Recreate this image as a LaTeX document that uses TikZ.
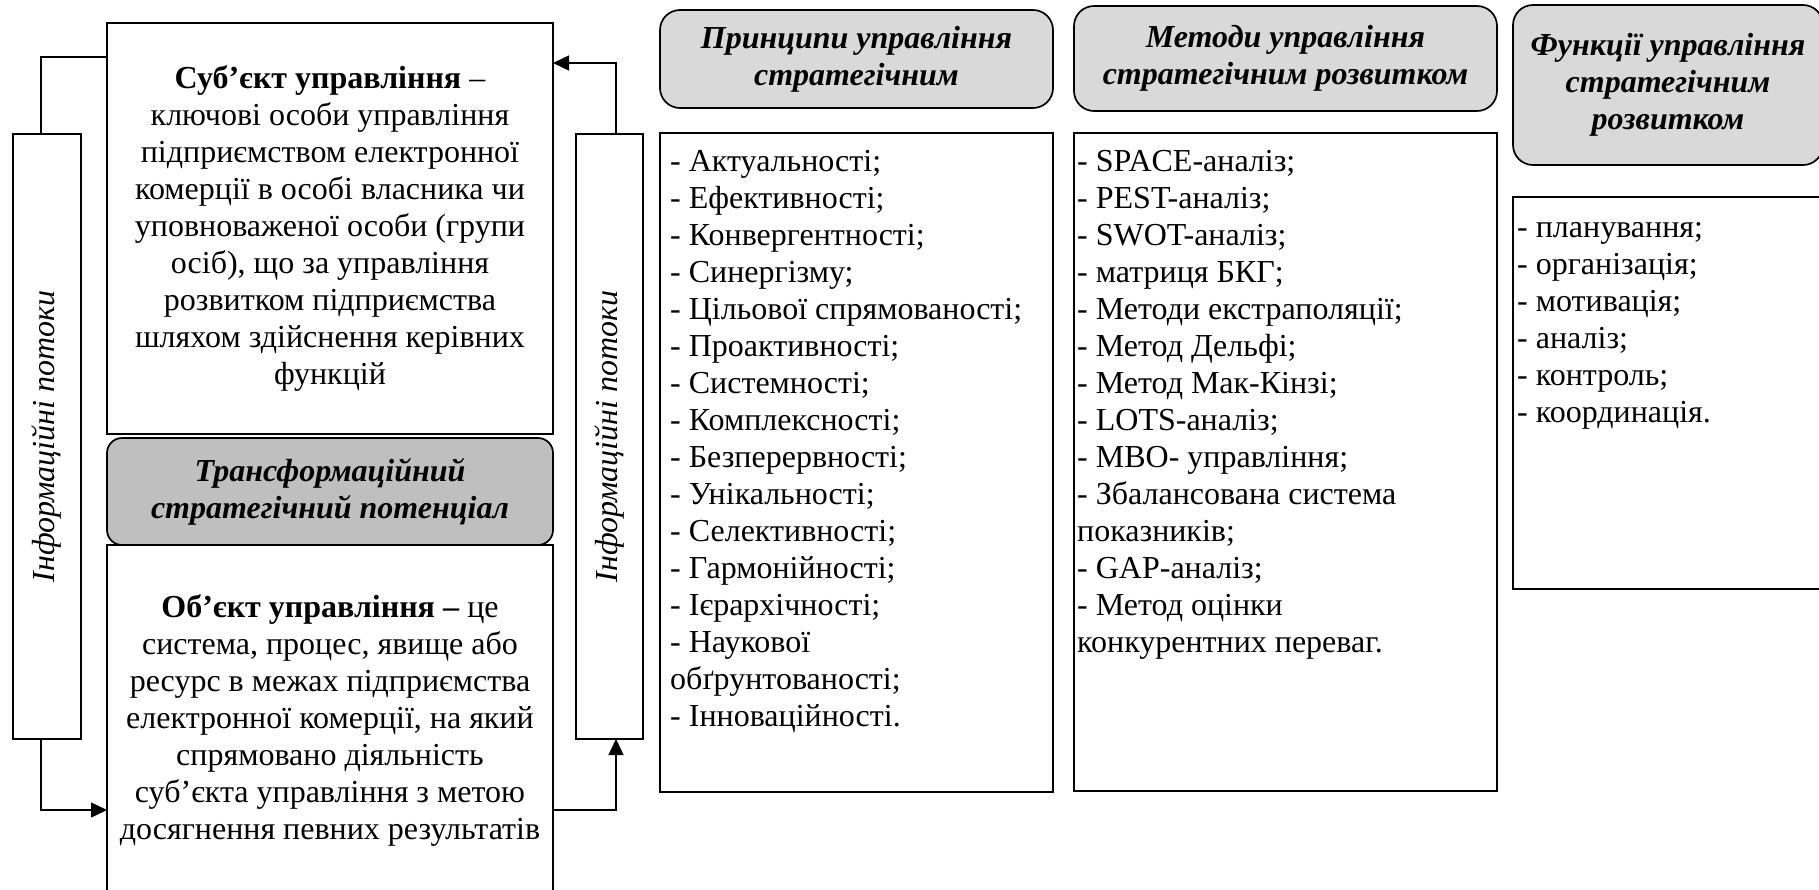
\documentclass[tikz,border=0pt]{standalone}
\usepackage{fontspec}
\setmainfont{Liberation Serif}
\usetikzlibrary{arrows.meta}
\definecolor{hdrgray}{RGB}{217,217,217}
\definecolor{midgray}{RGB}{191,191,191}
\begin{document}
\begin{tikzpicture}[x=1pt,y=-1pt,
  box/.style={draw=black, line width=1.7pt, inner sep=0pt, outer sep=0pt, anchor=north west, align=center, font=\fontsize{32}{37}\selectfont},
  hdr/.style={box, fill=hdrgray, rounded corners=20pt, font=\bfseries\itshape\fontsize{32}{37}\selectfont},
  listtxt/.style={anchor=north west, inner sep=0pt, align=left, font=\fontsize{32}{37}\selectfont},
  vtxt/.style={rotate=90, inner sep=0pt, font=\itshape\fontsize{32}{37}\selectfont},
  conn/.style={draw=black, line width=1.5pt},
  arr/.style={conn, -{Triangle[length=16pt,width=15pt]}}
]
\useasboundingbox (0,0) rectangle (1819,889);
\clip (0,0) rectangle (1819,889);

% left column
\node[box, minimum width=446pt, minimum height=411pt] (subj) at (107,23)
 {\textbf{Суб’єкт управління} –\\ключові особи управління\\підприємством електронної\\комерції в особі власника чи\\уповноваженої особи (групи\\осіб), що за управління\\розвитком підприємства\\шляхом здійснення керівних\\функцій};
\node[box, fill=midgray, rounded corners=15pt, minimum width=446pt, minimum height=107pt, font=\bfseries\itshape\fontsize{32}{37}\selectfont] (trans) at (107,438)
 {Трансформаційний\\стратегічний потенціал};
\node[box, minimum width=446pt, minimum height=351pt] (obj) at (107,545)
 {\textbf{Об’єкт управління –} це\\система, процес, явище або\\ресурс в межах підприємства\\електронної комерції, на який\\спрямовано діяльність\\суб’єкта управління з метою\\досягнення певних результатів};

\node[box, minimum width=68pt, minimum height=605pt] (linfo) at (13,134) {};
\node[vtxt] (ltxt) at (linfo.center) {Інформаційні потоки};
\node[box, minimum width=67pt, minimum height=605pt] (rinfo) at (576,134) {};
\node[vtxt] (rtxt) at (rinfo.center) {Інформаційні потоки};

% connectors
\coordinate (lt) at (41,57);
\coordinate (lb) at (41,810);
\coordinate (rt) at (616,63);
\coordinate (rb) at (616,810);
\draw[conn] (subj.west |- lt) -- (lt) -- (lt |- linfo.north);
\draw[arr] (lb |- linfo.south) -- (lb) -- (lb -| obj.west);
\draw[arr] (rb -| obj.east) -- (rb) -- (rb |- rinfo.south);
\draw[arr] (rt |- rinfo.north) -- (rt) -- (rt -| subj.east);

% principles
\node[hdr, minimum width=393pt, minimum height=98pt] (phdr) at (660,10)
 {Принципи управління\\стратегічним};
\node[box, minimum width=393pt, minimum height=659pt] (pbox) at (660,133) {};
\node[listtxt] (ptxt) at (670,145)
 {\rule{0pt}{26pt}- Актуальності;\\- Ефективності;\\- Конвергентності;\\- Синергізму;\\- Цільової спрямованості;\\- Проактивності;\\- Системності;\\- Комплексності;\\- Безперервності;\\- Унікальності;\\- Селективності;\\- Гармонійності;\\- Ієрархічності;\\- Наукової\\обґрунтованості;\\- Інноваційності.};

% methods
\node[hdr, minimum width=423pt, minimum height=105pt] (mhdr) at (1074,6)
 {Методи управління\\стратегічним розвитком};
\node[box, minimum width=423pt, minimum height=658pt] (mbox) at (1074,133) {};
\node[listtxt] (mtxt) at (1077,145)
 {\rule{0pt}{26pt}- SPACE-аналіз;\\- PEST-аналіз;\\- SWOT-аналіз;\\- матриця БКГ;\\- Методи екстраполяції;\\- Метод Дельфі;\\- Метод Мак-Кінзі;\\- LOTS-аналіз;\\- MBO- управління;\\- Збалансована система\\показників;\\- GAP-аналіз;\\- Метод оцінки\\конкурентних переваг.};

% functions
\node[hdr, minimum width=310pt, minimum height=160pt] (fhdr) at (1513,5)
 {Функції управління\\стратегічним\\розвитком};
\node[box, minimum width=310pt, minimum height=392pt] (fbox) at (1513,197) {};
\node[listtxt] (ftxt) at (1517,211)
 {\rule{0pt}{26pt}- планування;\\- організація;\\- мотивація;\\- аналіз;\\- контроль;\\- координація.};
\end{tikzpicture}
\end{document}
